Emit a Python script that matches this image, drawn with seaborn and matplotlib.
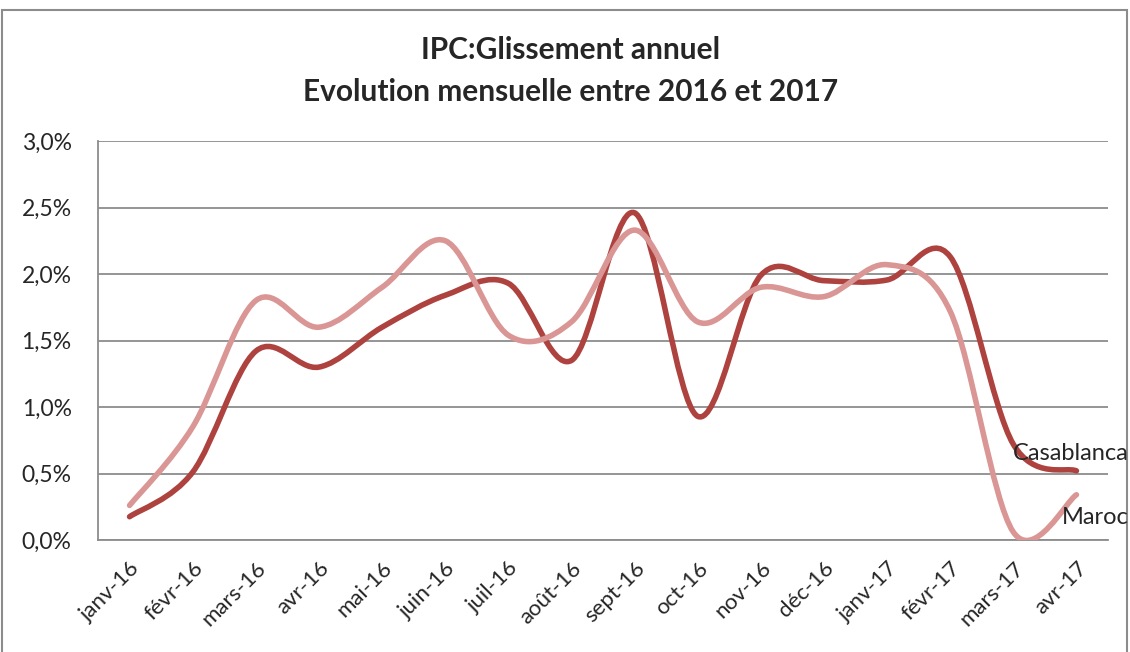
import numpy as np
import pandas as pd
import matplotlib
matplotlib.use("Agg")
import matplotlib.pyplot as plt
import matplotlib.transforms as mtrans
import seaborn as sns
from matplotlib.path import Path
from matplotlib.patches import PathPatch, Rectangle

months = ['janv-16', 'févr-16', 'mars-16', 'avr-16', 'mai-16', 'juin-16',
          'juil-16', 'août-16', 'sept-16', 'oct-16', 'nov-16', 'déc-16',
          'janv-17', 'févr-17', 'mars-17', 'avr-17']
casablanca = [0.175, 0.51, 1.42, 1.30, 1.60, 1.84, 1.93, 1.35, 2.46, 0.93,
              1.99, 1.95, 1.955, 2.13, 0.72, 0.52]
maroc = [0.26, 0.85, 1.80, 1.60, 1.90, 2.25, 1.54, 1.64, 2.33, 1.64,
         1.90, 1.83, 2.07, 1.72, 0.06, 0.34]
series = ['Casablanca', 'Maroc']
colors = {'Casablanca': '#AD423F', 'Maroc': '#D99694'}
yticks = [0.0, 0.5, 1.0, 1.5, 2.0, 2.5, 3.0]

df = pd.concat([
    pd.DataFrame({'x': range(len(months)), 'val': casablanca, 'serie': 'Casablanca'}),
    pd.DataFrame({'x': range(len(months)), 'val': maroc, 'serie': 'Maroc'}),
])

sns.set_style('white')
plt.rcParams['font.family'] = ['Lato', 'DejaVu Sans']

fig = plt.figure(figsize=(11.3, 6.52), dpi=100)
ax = fig.add_axes([98 / 1130, 112 / 652, 1010 / 1130, 399 / 652])

sns.lineplot(data=df, x='x', y='val', hue='serie', hue_order=series,
             palette=colors, ax=ax, legend=False)

# excel-like smoothed lines: bezier curves through the plotted points
for line in ax.lines:
    pts = line.get_xydata()
    n = len(pts)
    verts = [pts[0]]
    codes = [Path.MOVETO]
    for i in range(n - 1):
        p_prev = pts[max(i - 1, 0)]
        p_next2 = pts[min(i + 2, n - 1)]
        c1 = pts[i] + (pts[i + 1] - p_prev) / 6
        c2 = pts[i + 1] - (p_next2 - pts[i]) / 6
        verts += [c1, c2, pts[i + 1]]
        codes += [Path.CURVE4] * 3
    ax.add_patch(PathPatch(Path(verts, codes), fill=False, lw=4.0,
                           edgecolor=line.get_color(), capstyle='round',
                           joinstyle='round', zorder=3))
    line.set_visible(False)

ax.set_xlim(-0.5, len(months) - 0.5)
ax.set_ylim(0, 3.0)
ax.set_yticks(yticks)
ax.set_yticklabels([f"{v:.1f}%".replace('.', ',') for v in yticks], fontsize=16.5)
ax.set_xticks(range(len(months)))
ax.set_xticklabels(months, rotation=45, ha='right', va='top',
                   rotation_mode='anchor', fontsize=16)
shift = mtrans.ScaledTranslation(-6 / 100, 0, fig.dpi_scale_trans)
for lab in ax.get_xticklabels():
    lab.set_transform(lab.get_transform() + shift)
ax.tick_params(axis='x', length=0, pad=13)
ax.tick_params(axis='y', length=0, pad=19)
ax.set_xlabel('')
ax.set_ylabel('')
ax.grid(axis='y', color='#8C8C8C', lw=1.3)
ax.set_axisbelow(True)
for s in ['top', 'right']:
    ax.spines[s].set_visible(False)
for s in ['left', 'bottom']:
    ax.spines[s].set_color('#8C8C8C')
    ax.spines[s].set_linewidth(1.3)

# series labels at the end of the lines
fig.text(1129 / 1130, 1 - 453 / 652, 'Casablanca', ha='right', va='center', fontsize=17)
fig.text(1129 / 1130, 1 - 518 / 652, 'Maroc', ha='right', va='center', fontsize=17)

fig.text(0.505, 1 - 50 / 652, 'IPC:Glissement annuel', ha='center', va='center',
         fontsize=21.5, fontweight='bold')
fig.text(0.505, 1 - 92 / 652, 'Evolution mensuelle entre 2016 et 2017', ha='center',
         va='center', fontsize=21.5, fontweight='bold')

fig.patches.append(Rectangle((2 / 1130, -0.05), 1125 / 1130, 1.05 - 10 / 652,
                             transform=fig.transFigure, fill=False,
                             edgecolor='#8C8C8C', lw=1.5))

fig.savefig('out.png', dpi=100)
